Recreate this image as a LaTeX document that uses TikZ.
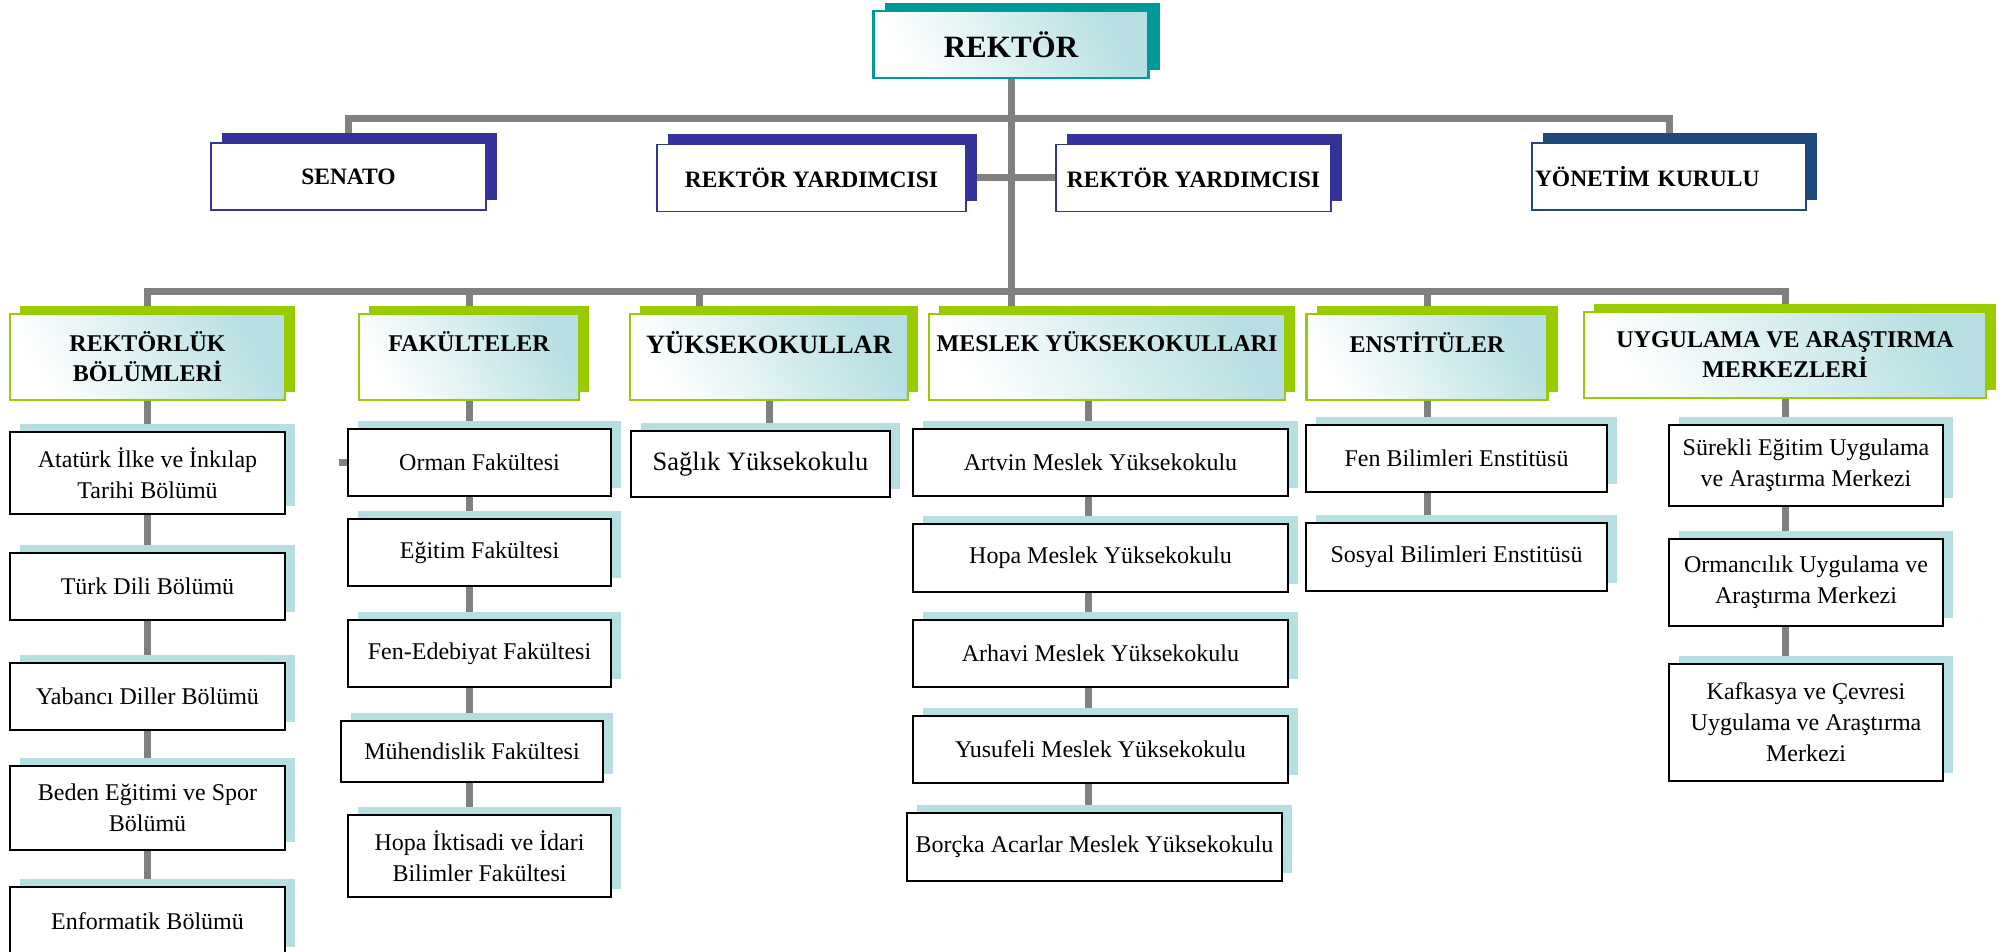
\documentclass[tikz,border=0pt]{standalone}
\usepackage{fontspec}
\setmainfont{Liberation Serif}
\usepackage{xcolor}
\usepackage{tikz}
\usetikzlibrary{shadows,backgrounds}

\definecolor{tealdark}{HTML}{009999}
\definecolor{indigo}{HTML}{333399}
\definecolor{navyblue}{HTML}{1F497D}
\definecolor{limegreen}{HTML}{99CC00}
\definecolor{paleblue}{HTML}{B7DFE2}
\definecolor{linegray}{HTML}{808080}

\tikzset{
  conn/.style={draw=linegray, line width=7pt},
  topbox/.style={draw=tealdark, line width=2.5pt, left color=white, right color=paleblue, shading angle=120,
    inner sep=0pt, minimum width=275pt, minimum height=67pt, font=\fontsize{31}{36}\selectfont\bfseries,
    drop shadow={shadow xshift=11pt, shadow yshift=8pt, fill=tealdark, opacity=1}},
  lvlone/.style={draw=#1, line width=1.5pt, fill=white, inner sep=0pt, minimum height=67pt,
    font=\fontsize{23.5}{28}\selectfont\bfseries,
    drop shadow={shadow xshift=11pt, shadow yshift=10pt, fill=#1, opacity=1}},
  lvltwo/.style={draw=limegreen, line width=2.5pt, left color=white, right color=paleblue, shading angle=120,
    inner sep=0pt, minimum height=86pt, align=center, font=\fontsize{24}{30}\selectfont\bfseries,
    drop shadow={shadow xshift=10pt, shadow yshift=8pt, fill=limegreen, opacity=1}},
  unit/.style={draw=black, line width=2pt, fill=white, inner sep=0pt, align=center,
    font=\fontsize{24}{31}\selectfont,
    drop shadow={shadow xshift=10pt, shadow yshift=8pt, fill=paleblue, opacity=1}}
}

\begin{document}
\begin{tikzpicture}[x=1pt,y=-1pt]
\useasboundingbox (0,0) rectangle (2007,952);

\node[topbox] (rektor) at (1011,44.5) {REKTÖR};

\node[lvlone=indigo, minimum width=275pt] (senato) at (348.5,176.5) {SENATO};
\node[lvlone=indigo, minimum width=309pt] (ryone) at (811.5,178) {REKTÖR YARDIMCISI};
\node[lvlone=indigo, minimum width=275pt] (rytwo) at (1193.5,178) {REKTÖR YARDIMCISI};
\node[lvlone=navyblue, minimum width=274pt, text width=268pt, align=left] (yonetim) at (1669,176.5) {YÖNETİM KURULU};

\node[lvltwo, minimum width=275pt] (rbol) at (147.5,357) {REKTÖRLÜK\\BÖLÜMLERİ};
\node[lvltwo, minimum width=220pt] (fak) at (469,357) {FAKÜLTELER\\\mbox{}};
\node[lvltwo, minimum width=278pt, font=\fontsize{26.5}{30}\selectfont\bfseries] (yuks) at (769,357) {YÜKSEKOKULLAR\\\mbox{}};
\node[lvltwo, minimum width=356pt] (myo) at (1107,357) {MESLEK YÜKSEKOKULLARI\\\mbox{}};
\node[lvltwo, minimum width=241pt] (enst) at (1427,357) {ENSTİTÜLER\\\mbox{}};
\node[lvltwo, minimum width=402pt] (uyg) at (1785,355) {UYGULAMA VE ARAŞTIRMA\\MERKEZLERİ};

\node[unit, minimum width=275pt, minimum height=82pt] (ata) at (147.5,473) {Atatürk İlke ve İnkılap\\Tarihi Bölümü};
\node[unit, minimum width=275pt, minimum height=67pt] (turk) at (147.5,586.5) {Türk Dili Bölümü};
\node[unit, minimum width=275pt, minimum height=67pt] (yab) at (147.5,696.5) {Yabancı Diller Bölümü};
\node[unit, minimum width=275pt, minimum height=84pt] (beden) at (147.5,808) {Beden Eğitimi ve Spor\\Bölümü};
\node[unit, minimum width=275pt, minimum height=68pt] (enf) at (147.5,921) {Enformatik Bölümü};

\node[unit, minimum width=263pt, minimum height=67pt] (ormf) at (479.5,462.5) {Orman Fakültesi};
\node[unit, minimum width=263pt, minimum height=67pt] (egf) at (479.5,552.5) {Eğitim Fakültesi};
\node[unit, minimum width=263pt, minimum height=67pt] (fef) at (479.5,653.5) {Fen-Edebiyat Fakültesi};
\node[unit, minimum width=262pt, minimum height=61pt] (muhf) at (472,751.5) {Mühendislik Fakültesi};
\node[unit, minimum width=263pt, minimum height=82pt] (hopaf) at (479.5,856) {Hopa İktisadi ve İdari\\Bilimler Fakültesi};

\node[unit, minimum width=259pt, minimum height=66pt, font=\fontsize{26.5}{31}\selectfont] (saglik) at (760.5,464) {Sağlık Yüksekokulu};

\node[unit, minimum width=375pt, minimum height=67pt] (amyo) at (1100.5,462.5) {Artvin Meslek Yüksekokulu};
\node[unit, minimum width=375pt, minimum height=68pt] (hmyo) at (1100.5,558) {Hopa Meslek Yüksekokulu};
\node[unit, minimum width=375pt, minimum height=67pt] (armyo) at (1100.5,653.5) {Arhavi Meslek Yüksekokulu};
\node[unit, minimum width=375pt, minimum height=67pt] (ymyo) at (1100.5,749.5) {Yusufeli Meslek Yüksekokulu};
\node[unit, minimum width=375pt, minimum height=68pt] (bmyo) at (1094.5,847) {Borçka Acarlar Meslek Yüksekokulu};

\node[unit, minimum width=301pt, minimum height=67pt] (fbe) at (1456.5,458.5) {Fen Bilimleri Enstitüsü};
\node[unit, minimum width=301pt, minimum height=68pt] (sbe) at (1456.5,557) {Sosyal Bilimleri Enstitüsü};

\node[unit, minimum width=274pt, minimum height=81pt] (sem) at (1806,465.5) {Sürekli Eğitim Uygulama\\ve Araştırma Merkezi};
\node[unit, minimum width=274pt, minimum height=87pt] (oum) at (1806,582.5) {Ormancılık Uygulama ve\\Araştırma Merkezi};
\node[unit, minimum width=274pt, minimum height=117pt] (kum) at (1806,722.5) {Kafkasya ve Çevresi\\Uygulama ve Araştırma\\Merkezi};

\begin{pgfonlayer}{background}
\coordinate (busone) at (1011,119);
\coordinate (bustwo) at (1011,291);
\coordinate (ydrop) at (699,291);
\coordinate (mcol) at (1088,0);
\draw[conn] (rektor.south) -- (rektor.south |- myo.north);
\draw[conn] (senato.north) -- (senato.north |- busone) -- (yonetim.north |- busone) -- (yonetim.north);
\draw[conn] (ryone.east) -- (rytwo.west);
\draw[conn] (rbol.north) -- (rbol.north |- bustwo) -- (uyg.north |- bustwo) -- (uyg.north);
\draw[conn] (fak.north |- bustwo) -- (fak.north);
\draw[conn] (ydrop) -- (ydrop |- yuks.north);
\draw[conn] (enst.north |- bustwo) -- (enst.north);
\draw[conn] (rbol.south) -- (rbol.south |- enf.north);
\draw[conn] (fak.south) -- (fak.south |- hopaf.north);
\draw[conn] (ormf.west) -- ++(-8,0);
\draw[conn] (yuks.south) -- (yuks.south |- saglik.north);
\draw[conn] (myo.south -| mcol) -- (bmyo.north -| mcol);
\draw[conn] (enst.south) -- (enst.south |- sbe.north);
\draw[conn] (uyg.south) -- (uyg.south |- kum.north);
\end{pgfonlayer}
\end{tikzpicture}
\end{document}
